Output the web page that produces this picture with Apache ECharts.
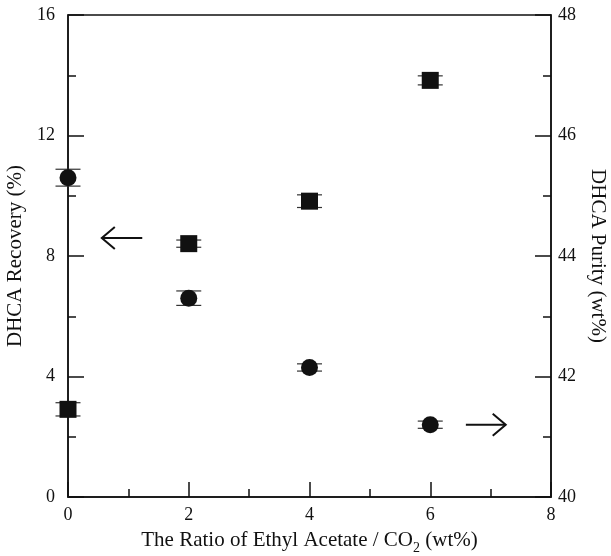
<!DOCTYPE html>
<html>
<head>
<meta charset="utf-8">
<script src="https://cdn.jsdelivr.net/npm/echarts@6/dist/echarts.min.js"></script>
<style>
html,body{margin:0;padding:0;background:#fff;}
#chart{width:611px;height:556px;}
</style>
</head>
<body>
<div id="chart"></div>
<script>
// ---- data ----
const ratio = [0, 2, 4, 6];
const recovery = [2.91, 8.41, 9.82, 13.83];
const recoveryErr = [0.22, 0.12, 0.21, 0.15];
const purity = [45.30, 43.30, 42.15, 41.20];
const purityErr = [0.14, 0.12, 0.06, 0.06];
const xTicks = [0, 2, 4, 6, 8];
const leftTicks = [0, 4, 8, 12, 16];
const rightTicks = [40, 42, 44, 46, 48];
// arrows: [xTail, y, xHead]
const leftArrow = [[1.23, 8.6, 0.56]];
const rightArrow = [[6.59, 41.2, 7.25]];

const FONT = 'Liberation Serif';
const INK = '#111';

const recPts = ratio.map((x, i) => [x, recovery[i]]);
const purPts = ratio.map((x, i) => [x, purity[i]]);
const recErr = ratio.map((x, i) => [x, recovery[i] - recoveryErr[i], recovery[i] + recoveryErr[i]]);
const purErrD = ratio.map((x, i) => [x, purity[i] - purityErr[i], purity[i] + purityErr[i]]);

function errRender(params, api) {
  const x = api.value(0);
  const lo = api.coord([x, api.value(1)]);
  const hi = api.coord([x, api.value(2)]);
  const hw = 12.5;
  const st = {stroke: '#333', lineWidth: 1.2};
  return {type: 'group', children: [
    {type: 'line', shape: {x1: lo[0], y1: lo[1], x2: hi[0], y2: hi[1]}, style: st},
    {type: 'line', shape: {x1: lo[0] - hw, y1: lo[1], x2: lo[0] + hw, y2: lo[1]}, style: st},
    {type: 'line', shape: {x1: hi[0] - hw, y1: hi[1], x2: hi[0] + hw, y2: hi[1]}, style: st}
  ]};
}
function arrowRender(params, api) {
  const y = api.value(1);
  const t = api.coord([api.value(0), y]);
  const h = api.coord([api.value(2), y]);
  const dir = h[0] > t[0] ? 1 : -1;
  const st = {stroke: INK, lineWidth: 2, fill: null};
  return {type: 'group', children: [
    {type: 'line', shape: {x1: t[0], y1: t[1], x2: h[0], y2: h[1]}, style: st},
    {type: 'polyline', shape: {points: [[h[0] - dir * 13, h[1] - 11], [h[0], h[1]], [h[0] - dir * 13, h[1] + 11]]}, style: st}
  ]};
}

const axisLineStyle = {color: INK, width: 1.5};
const chart = echarts.init(document.getElementById('chart'));
chart.setOption({
  animation: false,
  grid: {left: 68, right: 60, top: 15, bottom: 59, outerBoundsMode: 'none', containLabel: false, show: true, borderColor: INK, borderWidth: 1.5, backgroundColor: 'transparent'},
  xAxis: {
    type: 'value', min: xTicks[0], max: xTicks[xTicks.length - 1], interval: 2,
    axisLine: {show: true, lineStyle: axisLineStyle},
    axisTick: {show: true, inside: true, length: 15, lineStyle: axisLineStyle},
    minorTick: {show: true, splitNumber: 2, length: 8, lineStyle: axisLineStyle},
    splitLine: {show: false},
    axisLabel: {color: INK, fontFamily: FONT, fontSize: 18, margin: 9},
    name: '{a|The Ratio of Ethyl Acetate / CO}{s|2}{a| (wt%)}',
    nameLocation: 'middle', nameGap: 30,
    nameTextStyle: {
      rich: {
        a: {fontFamily: FONT, fontSize: 21, color: INK, verticalAlign: 'bottom', lineHeight: 24},
        s: {fontFamily: FONT, fontSize: 14, color: INK, verticalAlign: 'bottom', lineHeight: 24, padding: [0, 0, -4, 0]}
      }
    }
  },
  yAxis: [{
    type: 'value', min: leftTicks[0], max: leftTicks[leftTicks.length - 1], interval: 4,
    axisLine: {show: true, lineStyle: axisLineStyle},
    axisTick: {show: true, inside: true, length: 16, lineStyle: axisLineStyle},
    minorTick: {show: true, splitNumber: 2, length: 8, lineStyle: axisLineStyle},
    splitLine: {show: false},
    axisLabel: {color: INK, fontFamily: FONT, fontSize: 18, margin: 13},
    name: 'DHCA Recovery (%)', nameLocation: 'middle', nameGap: 40,
    nameTextStyle: {fontFamily: FONT, fontSize: 21, color: INK}
  }, {
    type: 'value', position: 'right', min: rightTicks[0], max: rightTicks[rightTicks.length - 1], interval: 2,
    axisLine: {show: true, lineStyle: axisLineStyle},
    axisTick: {show: true, inside: true, length: 16, lineStyle: axisLineStyle},
    minorTick: {show: true, splitNumber: 2, length: 8, lineStyle: axisLineStyle},
    splitLine: {show: false},
    axisLabel: {color: INK, fontFamily: FONT, fontSize: 18, margin: 7},
    name: 'DHCA Purity (wt%)', nameLocation: 'middle', nameGap: 36, nameRotate: -90,
    nameTextStyle: {fontFamily: FONT, fontSize: 21, color: INK}
  }],
  series: [
    {type: 'custom', name: 'recErr', xAxisIndex: 0, yAxisIndex: 0, renderItem: errRender, data: recErr, encode: {x: 0, y: [1, 2]}, z: 1},
    {type: 'custom', name: 'purErr', xAxisIndex: 0, yAxisIndex: 1, renderItem: errRender, data: purErrD, encode: {x: 0, y: [1, 2]}, z: 1},
    {type: 'scatter', name: 'Recovery', yAxisIndex: 0, symbol: 'rect', symbolSize: 17, itemStyle: {color: INK, opacity: 1}, data: recPts, z: 3},
    {type: 'scatter', name: 'Purity', yAxisIndex: 1, symbol: 'circle', symbolSize: 17, itemStyle: {color: INK, opacity: 1}, data: purPts, z: 3},
    {type: 'custom', name: 'arrowL', yAxisIndex: 0, renderItem: arrowRender, data: leftArrow, encode: {x: [0, 2], y: 1}, z: 4},
    {type: 'custom', name: 'arrowR', yAxisIndex: 1, renderItem: arrowRender, data: rightArrow, encode: {x: [0, 2], y: 1}, z: 4}
  ]
});
</script>
</body>
</html>
